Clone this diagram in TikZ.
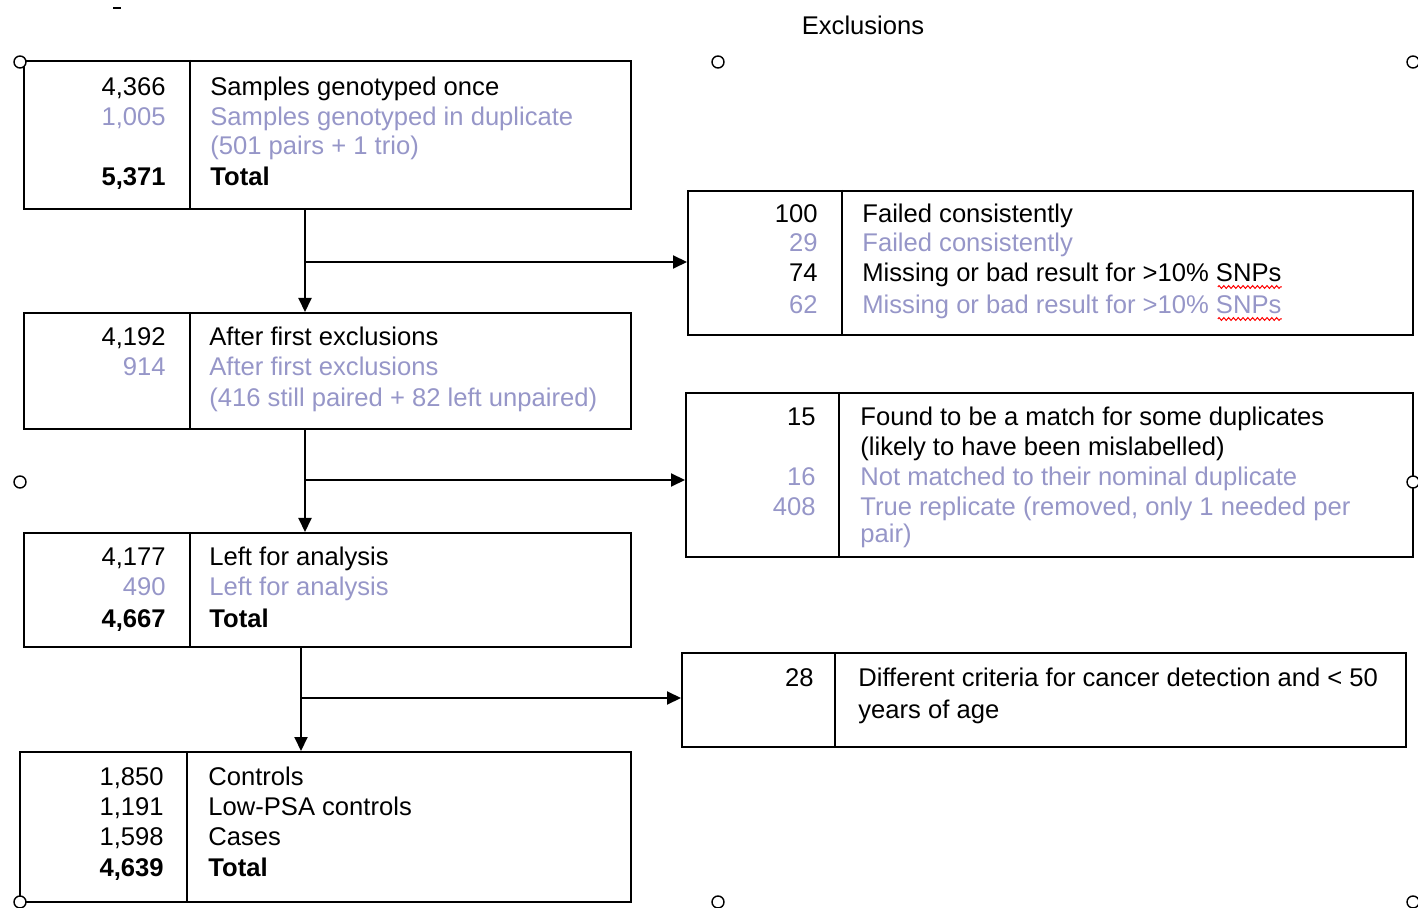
\documentclass[tikz,border=0pt]{standalone}
\usepackage{fontspec}
\setmainfont{Liberation Sans}
\usetikzlibrary{positioning,arrows.meta,calc,fit,decorations.pathmorphing}
\definecolor{lav}{RGB}{150,150,200}

\begin{document}
\begin{tikzpicture}[
  x=0.5pt, y=-0.5pt,
  font=\fontsize{12.8}{15}\selectfont,
  box/.style    = {draw=black, line width=1pt, inner sep=0pt},
  divider/.style= {line width=1pt},
  num/.style    = {anchor=base east, inner sep=0pt},
  lab/.style    = {anchor=base west, inner sep=0pt},
  arr/.style    = {-{Triangle[length=7pt,width=6.5pt]}, line width=1pt},
  handle/.style = {draw=black, fill=white, line width=0.7pt},
  spell/.style  = {draw=red, line width=0.5pt,
                   decorate, decoration={zigzag, amplitude=0.7pt, segment length=2.4pt}}]

\useasboundingbox (0,0) rectangle (1418,908);

% left column: samples kept at each stage
\node[box, fit={(24,61) (631,209)}]  (b1) {};
\node[box, fit={(24,313) (631,429)}] (b2) {};
\node[box, fit={(24,533) (631,647)}] (b3) {};
\node[box, fit={(20,752) (631,902)}] (b4) {};

% right column: exclusions
\node[anchor=base] (excl) at (863,35) {Exclusions};
\node[box, fit={(688,191) (1413,335)}] (e1) {};
\node[box, fit={(686,393) (1413,557)}] (e2) {};
\node[box, fit={(682,653) (1406,747)}] (e3) {};

% number / text dividers
\draw[divider] (b1.north -| 190,0) -- (b1.south -| 190,0);
\draw[divider] (b2.north -| 190,0) -- (b2.south -| 190,0);
\draw[divider] (b3.north -| 190,0) -- (b3.south -| 190,0);
\draw[divider] (b4.north -| 187,0) -- (b4.south -| 187,0);
\draw[divider] (e1.north -| 842,0) -- (e1.south -| 842,0);
\draw[divider] (e2.north -| 839,0) -- (e2.south -| 839,0);
\draw[divider] (e3.north -| 835,0) -- (e3.south -| 835,0);

% box contents
\foreach \y/\n/\t [count=\i] in {
    96/{4,366}/{Samples genotyped once},
    126/{\color{lav}1,005}/{\color{lav}Samples genotyped in duplicate},
    155/{}/{\color{lav}(501 pairs + 1 trio)},
    186/{\bfseries 5,371}/{\bfseries Total}}{
  \node[num] (n1-\i) at (166,\y) {\n};
  \node[lab] (t1-\i) at (210,\y) {\t};
}
\foreach \y/\n/\t [count=\i] in {
    346/{4,192}/{After first exclusions},
    376/{\color{lav}914}/{\color{lav}After first exclusions},
    407/{}/{\color{lav}(416 still paired + 82 left unpaired)}}{
  \node[num] (n2-\i) at (166,\y) {\n};
  \node[lab] (t2-\i) at (209,\y) {\t};
}
\foreach \y/\n/\t [count=\i] in {
    566/{4,177}/{Left for analysis},
    596/{\color{lav}490}/{\color{lav}Left for analysis},
    627/{\bfseries 4,667}/{\bfseries Total}}{
  \node[num] (n3-\i) at (166,\y) {\n};
  \node[lab] (t3-\i) at (209,\y) {\t};
}
\foreach \y/\n/\t [count=\i] in {
    785/{1,850}/{Controls},
    815/{1,191}/{Low-PSA controls},
    845/{1,598}/{Cases},
    876/{\bfseries 4,639}/{\bfseries Total}}{
  \node[num] (n4-\i) at (164,\y) {\n};
  \node[lab] (t4-\i) at (208,\y) {\t};
}
\foreach \y/\n/\t [count=\i] in {
    223/{100}/{Failed consistently},
    252/{\color{lav}29}/{\color{lav}Failed consistently},
    282/{74}/{Missing or bad result for >10\% SNPs},
    314/{\color{lav}62}/{\color{lav}Missing or bad result for >10\% SNPs}}{
  \node[num] (m1-\i) at (818,\y) {\n};
  \node[lab] (x1-\i) at (862,\y) {\t};
}
\foreach \y/\n/\t [count=\i] in {
    426/{15}/{Found to be a match for some duplicates},
    456/{}/{(likely to have been mislabelled)},
    486/{\color{lav}16}/{\color{lav}Not matched to their nominal duplicate},
    516/{\color{lav}408}/{\color{lav}True replicate (removed, only 1 needed per},
    543/{}/{\color{lav}pair)}}{
  \node[num] (m2-\i) at (816,\y) {\n};
  \node[lab] (x2-\i) at (860,\y) {\t};
}
\foreach \y/\n/\t [count=\i] in {
    686/{28}/{Different criteria for cancer detection and < 50},
    718/{}/{years of age}}{
  \node[num] (m3-\i) at (814,\y) {\n};
  \node[lab] (x3-\i) at (858,\y) {\t};
}

% spell-check marks under SNPs
\foreach \i in {3,4}
  \draw[spell] ($(x1-\i.base east)+(-64,5)$) -- ($(x1-\i.base east)+(0,5)$);

% flow down the left column, with the exclusions branching off
\coordinate (j1) at (305,262);
\coordinate (j2) at (305,480);
\coordinate (j3) at (301,698);
\draw[arr] (b1.south -| j1) -- (b2.north -| j1);
\draw[arr] (j1) -- (e1.west |- j1);
\draw[arr] (b2.south -| j2) -- (b3.north -| j2);
\draw[arr] (j2) -- (e2.west |- j2);
\draw[arr] (b3.south -| j3) -- (b4.north -| j3);
\draw[arr] (j3) -- (e3.west |- j3);

% selection handles and stray mark
\foreach \p in {(20,62),(718,62),(1413,62),(20,482),(1413,482),(20,902),(718,902),(1413,902)}
  \draw[handle] \p circle (3pt);
\draw[line width=0.8pt] (113,8) -- (121,8);

\end{tikzpicture}
\end{document}
